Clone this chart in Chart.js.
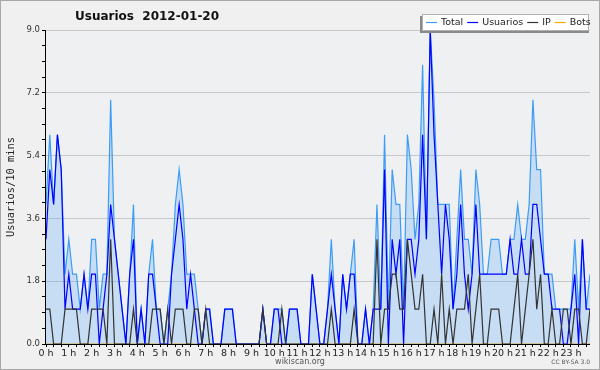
<!DOCTYPE html>
<html>
<head>
<meta charset="utf-8">
<script src="https://cdn.jsdelivr.net/npm/chart.js@4.4.1/dist/chart.umd.min.js"></script>
<style>
  html, body { margin: 0; padding: 0; background: #f0f0f0; }
</style>
</head>
<body>
<canvas id="usersChart" width="600" height="370"></canvas>
<script>
// 10-minute samples for 2012-01-20, 144 per series
const totalData = [
  4, 6, 4, 6, 5, 2, 3, 2, 2, 1, 2, 1, 3, 3, 1, 2, 2, 7, 3, 2, 1, 0, 2, 4,
  0, 1, 0, 2, 3, 1, 1, 0, 1, 2, 4, 5, 4, 2, 2, 2, 1, 0, 1, 1, 0, 0, 0, 1,
  1, 1, 0, 0, 0, 0, 0, 0, 0, 1, 0, 0, 1, 1, 1, 0, 1, 1, 1, 0, 0, 0, 2, 1,
  0, 0, 1, 3, 1, 0, 2, 1, 2, 3, 0, 0, 1, 0, 1, 4, 1, 6, 1, 5, 4, 4, 1, 6,
  5, 3, 4, 8, 3, 9, 7, 4, 4, 4, 4, 1, 3, 5, 3, 3, 2, 5, 4, 2, 2, 3, 3, 3,
  2, 2, 3, 3, 4, 3, 3, 4, 7, 5, 5, 2, 2, 2, 1, 1, 1, 1, 1, 3, 1, 3, 1, 2
];
const usuariosData = [
  3, 5, 4, 6, 5, 1, 2, 1, 1, 1, 2, 1, 2, 2, 0, 1, 2, 4, 3, 2, 1, 0, 2, 3,
  0, 1, 0, 2, 2, 1, 0, 0, 0, 2, 3, 4, 3, 1, 2, 1, 0, 0, 1, 1, 0, 0, 0, 1,
  1, 1, 0, 0, 0, 0, 0, 0, 0, 1, 0, 0, 1, 1, 0, 0, 1, 1, 1, 0, 0, 0, 2, 1,
  0, 0, 1, 2, 1, 0, 2, 1, 2, 2, 0, 0, 1, 0, 1, 1, 1, 5, 0, 3, 2, 3, 0, 3,
  3, 2, 3, 6, 3, 9, 6, 4, 2, 4, 3, 1, 2, 4, 2, 1, 2, 4, 2, 2, 2, 2, 2, 2,
  2, 2, 3, 2, 2, 3, 2, 2, 4, 4, 3, 2, 2, 1, 1, 1, 0, 0, 1, 2, 0, 3, 1, 1
];
const ipData = [
  1, 1, 0, 0, 0, 1, 1, 1, 1, 0, 0, 0, 1, 1, 1, 1, 0, 3, 0, 0, 0, 0, 0, 1,
  0, 0, 0, 0, 1, 1, 1, 0, 1, 0, 1, 1, 1, 0, 0, 1, 1, 0, 1, 0, 0, 0, 0, 0,
  0, 0, 0, 0, 0, 0, 0, 0, 0, 1, 0, 0, 0, 0, 1, 0, 0, 0, 0, 0, 0, 0, 0, 0,
  0, 0, 0, 1, 0, 0, 0, 0, 0, 1, 0, 0, 0, 0, 0, 3, 0, 1, 1, 2, 2, 1, 1, 3,
  2, 1, 1, 2, 0, 0, 1, 0, 2, 0, 1, 0, 1, 1, 1, 2, 0, 1, 2, 0, 0, 1, 1, 1,
  0, 0, 0, 1, 2, 0, 1, 2, 3, 1, 2, 0, 0, 1, 0, 0, 1, 1, 0, 1, 1, 0, 0, 1
];
const botsData = [
  0, 0, 0, 0, 0, 0, 0, 0, 0, 0, 0, 0, 0, 0, 0, 0, 0, 0, 0, 0, 0, 0, 0, 0,
  0, 0, 0, 0, 0, 0, 0, 0, 0, 0, 0, 0, 0, 0, 0, 0, 0, 0, 0, 0, 0, 0, 0, 0,
  0, 0, 0, 0, 0, 0, 0, 0, 0, 0, 0, 0, 0, 0, 0, 0, 0, 0, 0, 0, 0, 0, 0, 0,
  0, 0, 0, 0, 0, 0, 0, 0, 0, 0, 0, 0, 0, 0, 0, 0, 0, 0, 0, 0, 0, 0, 0, 0,
  0, 0, 0, 0, 0, 0, 0, 0, 0, 0, 0, 0, 0, 0, 0, 0, 0, 0, 0, 0, 0, 0, 0, 0,
  0, 0, 0, 0, 0, 0, 0, 0, 0, 0, 0, 0, 0, 0, 0, 0, 0, 0, 0, 0, 0, 0, 0, 0
];
const hourLabels = [
  "0 h", "1 h", "2 h", "3 h", "4 h", "5 h", "6 h", "7 h", "8 h", "9 h", "10 h", "11 h",
  "12 h", "13 h", "14 h", "15 h", "16 h", "17 h", "18 h", "19 h", "20 h", "21 h", "22 h", "23 h"
];
const yTickLabels = ["0.0", "1.8", "3.6", "5.4", "7.2", "9.0"];
const seriesNames = ["Total", "Usuarios", "IP", "Bots"];
const seriesColors = ["#3d9cf5", "#0000ff", "#333333", "#ffa500"];
const titleText = "Usuarios  2012-01-20";

function toPoints(arr) {
    return arr.map((v, i) => ({ x: i, y: v }));
}

// background, frame, title, legend and footer texts
const decorPlugin = {
    id: "decor",
    beforeDraw(chart) {
        const { ctx, chartArea: a } = chart;
        ctx.save();
        ctx.fillStyle = "#f0f0f0";
        ctx.fillRect(0, 0, chart.width, chart.height);
        ctx.fillStyle = "#eef0f2";
        ctx.fillRect(a.left, a.top, a.right - a.left, a.bottom - a.top);
        ctx.restore();
    },
    afterDatasetsDraw(chart) {
        const { ctx, chartArea: a } = chart;
        ctx.save();
        ctx.strokeStyle = "#000";
        ctx.lineWidth = 1;
        ctx.beginPath();
        ctx.moveTo(a.left - 0.5, a.top);
        ctx.lineTo(a.left - 0.5, a.bottom + 0.5);
        ctx.lineTo(a.right, a.bottom + 0.5);
        ctx.stroke();
        ctx.restore();
    },
    afterDraw(chart) {
        const ctx = chart.ctx;
        ctx.save();
        ctx.strokeStyle = "#a8a8a8";
        ctx.lineWidth = 1;
        ctx.strokeRect(0.5, 0.5, chart.width - 1, chart.height - 1);

        ctx.fillStyle = "#111";
        ctx.textBaseline = "middle";
        ctx.font = "bold 12px 'DejaVu Sans'";
        ctx.fillText(titleText, 75, 17);

        // y axis title
        ctx.save();
        ctx.translate(11, 187);
        ctx.rotate(-Math.PI / 2);
        ctx.textAlign = "center";
        ctx.font = "10.4px 'DejaVu Sans Mono'";
        ctx.fillStyle = "#222";
        ctx.fillText("Usuarios/10 mins", 0, 0);
        ctx.restore();

        // legend box with shadow
        ctx.fillStyle = "#8a8a8a";
        ctx.fillRect(420, 16, 169, 17);
        ctx.fillStyle = "#ffffff";
        ctx.fillRect(422, 14, 167, 17);
        ctx.strokeStyle = "#b0b0b0";
        ctx.strokeRect(422.5, 14.5, 166, 16);
        ctx.font = "9.5px 'DejaVu Sans'";
        ctx.textAlign = "left";
        let x = 426;
        seriesNames.forEach((name, k) => {
            ctx.strokeStyle = seriesColors[k];
            ctx.lineWidth = 1.2;
            ctx.beginPath();
            ctx.moveTo(x, 22.5);
            ctx.lineTo(x + 11, 22.5);
            ctx.stroke();
            ctx.fillStyle = "#222";
            ctx.fillText(name, x + 15, 23);
            x += 15 + ctx.measureText(name).width + 4;
        });

        ctx.fillStyle = "#555";
        ctx.textAlign = "center";
        ctx.font = "8px 'DejaVu Sans'";
        ctx.fillText("wikiscan.org", 300, 362);
        ctx.textAlign = "right";
        ctx.font = "6px 'DejaVu Sans'";
        ctx.fillText("CC BY-SA 3.0", 590, 362);
        ctx.restore();
    }
};

const ctx = document.getElementById("usersChart").getContext("2d");
const usersChart = new Chart(ctx, {
    type: "line",
    data: {
        datasets: [
            {
                label: seriesNames[0],
                data: toPoints(totalData),
                borderColor: seriesColors[0],
                backgroundColor: "rgba(61, 156, 245, 0.22)",
                fill: "origin",
                order: 2
            },
            {
                label: seriesNames[1],
                data: toPoints(usuariosData),
                borderColor: seriesColors[1],
                fill: false,
                order: 1
            },
            {
                label: seriesNames[2],
                data: toPoints(ipData),
                borderColor: seriesColors[2],
                fill: false,
                order: 0
            },
            {
                label: seriesNames[3],
                data: toPoints(botsData),
                borderColor: seriesColors[3],
                fill: false,
                order: 3
            }
        ]
    },
    options: {
        responsive: false,
        animation: false,
        devicePixelRatio: 1,
        layout: { padding: { top: 30, right: 10, left: 0, bottom: 0 } },
        elements: {
            point: { radius: 0 },
            line: { borderWidth: 1.2, tension: 0 }
        },
        plugins: {
            legend: { display: false },
            title: { display: false },
            tooltip: { enabled: false }
        },
        scales: {
            x: {
                type: "linear",
                min: 0,
                max: 143,
                afterFit(scale) { scale.height = 26; },
                afterBuildTicks(scale) {
                    const t = [];
                    for (let v = 0; v <= 142; v += 2) t.push({ value: v });
                    scale.ticks = t;
                },
                ticks: {
                    autoSkip: false,
                    maxRotation: 0,
                    padding: 1,
                    color: "#222",
                    font: { family: "'DejaVu Sans'", size: 9.5 },
                    callback: (v) => (v % 6 === 0 ? hourLabels[v / 6] : "")
                },
                grid: { drawOnChartArea: false, tickLength: 3, color: "#000", tickColor: "#000" },
                border: { display: false }
            },
            y: {
                min: 0,
                max: 9,
                afterFit(scale) { scale.width = 46; },
                afterBuildTicks(scale) {
                    const t = [];
                    for (let k = 0; k <= 20; k++) t.push({ value: k * 0.45 });
                    scale.ticks = t;
                },
                ticks: {
                    autoSkip: false,
                    padding: 2,
                    color: "#333",
                    font: { family: "'DejaVu Sans'", size: 8.5 },
                    callback: (v, i) => (i % 4 === 0 ? yTickLabels[i / 4] : "")
                },
                grid: {
                    tickLength: 4,
                    tickColor: "#000",
                    color: (c) => (c.index % 4 === 0 && c.index > 0 ? "#c8c8c8" : "rgba(0,0,0,0)")
                },
                border: { display: false }
            }
        }
    },
    plugins: [decorPlugin]
});
</script>
</body>
</html>
